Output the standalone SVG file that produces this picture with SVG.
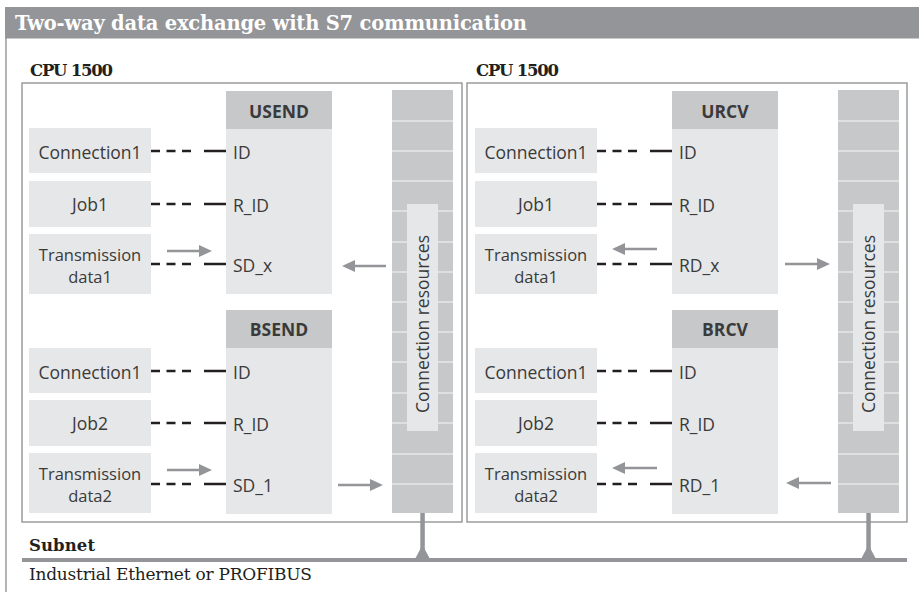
<svg xmlns="http://www.w3.org/2000/svg" width="919" height="592" viewBox="0 0 919 592">
<defs>
<marker id="ah" markerUnits="userSpaceOnUse" markerWidth="13" markerHeight="12" viewBox="0 0 13 12" refX="2" refY="6" orient="auto"><path d="M0,0 L13,6 L0,12 z" fill="#939598"/></marker>
<style>
.lbl{font-family:"Open Sans","Noto Sans","DejaVu Sans",sans-serif;font-size:17.5px;fill:#3a3a3a}
.two{font-size:16.5px}
.hdr{font-family:"Open Sans","Noto Sans",sans-serif;font-size:17.5px;font-weight:bold;fill:#3a3a3a;text-anchor:middle}
.mid{text-anchor:middle}
.box{fill:#e6e7e8}
.head{fill:#c7c8ca}
.col{fill:#c7c8ca}
.seg{stroke:#e6e7e8;stroke-width:1.5}
.cpu{fill:none;stroke:#939598;stroke-width:1.4}
.dash{stroke:#231f20;stroke-width:2.3;fill:none;stroke-dasharray:9 6.5 9 6.5 9 13 30}
.arr{stroke:#939598;stroke-width:2.6;fill:none;marker-end:url(#ah)}
.serifb{font-family:"DejaVu Serif","Liberation Serif",serif;font-weight:bold;fill:#231f20}
.serif{font-family:"DejaVu Serif","Liberation Serif",serif;fill:#231f20}
.net{fill:#939598}
</style>
</defs>
<rect x="0" y="0" width="919" height="592" fill="#ffffff"/>

<g id="title">
<rect x="5" y="7" width="914" height="31" fill="#939598"/>
<line x1="5" y1="38.5" x2="919" y2="38.5" stroke="#c8c9cb" stroke-width="1.2"/>
<line x1="6" y1="38" x2="6" y2="592" stroke="#939598" stroke-width="1.4"/>
<text x="15" y="29.5" class="serifb" style="fill:#ffffff" font-size="19.5" textLength="512" lengthAdjust="spacing">Two-way data exchange with S7 communication</text>
</g>

<!-- Left CPU -->
<g id="cpu-left">
<text x="30" y="76" class="serifb" font-size="16.5" textLength="83" lengthAdjust="spacing">CPU 1500</text>
<rect x="22" y="83" width="440" height="439" class="cpu"/>
</g>
<g id="usend">
<rect x="226" y="91" width="106" height="38" class="head"/>
<rect x="226" y="129" width="106" height="165" class="box"/>
<text x="279" y="118" class="hdr">USEND</text>
<text x="233" y="158.5" class="lbl">ID</text>
<text x="233" y="211.5" class="lbl">R_ID</text>
<text x="233" y="271.5" class="lbl">SD_x</text>
</g>
<g id="bsend">
<rect x="226" y="310" width="106" height="38" class="head"/>
<rect x="226" y="348" width="106" height="166" class="box"/>
<text x="279" y="336" class="hdr">BSEND</text>
<text x="233" y="378.5" class="lbl">ID</text>
<text x="233" y="430.5" class="lbl">R_ID</text>
<text x="233" y="491.5" class="lbl">SD_1</text>
</g>
<g id="l-conn1a"><rect x="29" y="128" width="122" height="45" class="box"/><text x="90" y="158.5" class="lbl mid">Connection1</text></g>
<g id="l-job1"><rect x="29" y="181" width="122" height="46" class="box"/><text x="90" y="211" class="lbl mid">Job1</text></g>
<g id="l-data1"><rect x="29" y="234" width="122" height="60" class="box"/><text x="90" y="260.5" class="lbl two mid">Transmission</text><text x="90" y="283" class="lbl two mid">data1</text></g>
<g id="l-conn1b"><rect x="29" y="348" width="122" height="45" class="box"/><text x="90" y="378.5" class="lbl mid">Connection1</text></g>
<g id="l-job2"><rect x="29" y="400" width="122" height="46" class="box"/><text x="90" y="430" class="lbl mid">Job2</text></g>
<g id="l-data2"><rect x="29" y="453" width="122" height="60" class="box"/><text x="90" y="479.5" class="lbl two mid">Transmission</text><text x="90" y="502" class="lbl two mid">data2</text></g>
<g id="l-res">
<rect x="392" y="90" width="61" height="423" class="col"/>
<path class="seg" d="M392,121H453M392,151H453M392,181H453M392,211H453M392,242H453M392,272H453M392,302H453M392,332H453M392,362H453M392,393H453M392,423H453M392,454H453M392,484H453"/>
<rect x="407" y="204" width="31" height="227" class="box"/>
<text transform="translate(428.5,324) rotate(-90)" class="lbl mid">Connection resources</text>
</g>

<!-- Right CPU -->
<g id="cpu-right">
<text x="476" y="76" class="serifb" font-size="16.5" textLength="83" lengthAdjust="spacing">CPU 1500</text>
<rect x="467" y="83" width="440" height="439" class="cpu"/>
</g>
<g id="urcv">
<rect x="672" y="91" width="106" height="38" class="head"/>
<rect x="672" y="129" width="106" height="165" class="box"/>
<text x="725" y="118" class="hdr">URCV</text>
<text x="679" y="158.5" class="lbl">ID</text>
<text x="679" y="211.5" class="lbl">R_ID</text>
<text x="679" y="271.5" class="lbl">RD_x</text>
</g>
<g id="brcv">
<rect x="672" y="310" width="106" height="38" class="head"/>
<rect x="672" y="348" width="106" height="166" class="box"/>
<text x="725" y="336" class="hdr">BRCV</text>
<text x="679" y="378.5" class="lbl">ID</text>
<text x="679" y="430.5" class="lbl">R_ID</text>
<text x="679" y="491.5" class="lbl">RD_1</text>
</g>
<g id="r-conn1a"><rect x="475" y="128" width="122" height="45" class="box"/><text x="536" y="158.5" class="lbl mid">Connection1</text></g>
<g id="r-job1"><rect x="475" y="181" width="122" height="46" class="box"/><text x="536" y="211" class="lbl mid">Job1</text></g>
<g id="r-data1"><rect x="475" y="234" width="122" height="60" class="box"/><text x="536" y="260.5" class="lbl two mid">Transmission</text><text x="536" y="283" class="lbl two mid">data1</text></g>
<g id="r-conn1b"><rect x="475" y="348" width="122" height="45" class="box"/><text x="536" y="378.5" class="lbl mid">Connection1</text></g>
<g id="r-job2"><rect x="475" y="400" width="122" height="46" class="box"/><text x="536" y="430" class="lbl mid">Job2</text></g>
<g id="r-data2"><rect x="475" y="453" width="122" height="60" class="box"/><text x="536" y="479.5" class="lbl two mid">Transmission</text><text x="536" y="502" class="lbl two mid">data2</text></g>
<g id="r-res">
<rect x="838" y="90" width="61" height="423" class="col"/>
<path class="seg" d="M838,121H899M838,151H899M838,181H899M838,211H899M838,242H899M838,272H899M838,302H899M838,332H899M838,362H899M838,393H899M838,423H899M838,454H899M838,484H899"/>
<rect x="853" y="204" width="31" height="227" class="box"/>
<text transform="translate(874.5,324) rotate(-90)" class="lbl mid">Connection resources</text>
</g>

<!-- Subnet -->
<g id="subnet">
<text x="29" y="551" class="serifb" font-size="16.5" textLength="66" lengthAdjust="spacing">Subnet</text>
<rect x="22" y="558" width="885" height="4" class="net"/>
<rect x="420.3" y="513" width="4.5" height="46" class="net"/>
<polygon points="415,559 430,559 422.5,545" class="net"/>
<rect x="866.3" y="513" width="4.5" height="46" class="net"/>
<polygon points="861,559 876,559 868.5,545" class="net"/>
<text x="29" y="580" class="serif" font-size="17" textLength="283" lengthAdjust="spacing">Industrial Ethernet or PROFIBUS</text>
</g>

<g id="connectors">
<path class="dash" d="M151,151H226"/>
<path class="dash" d="M151,204H226"/>
<path class="dash" d="M151,264H226"/>
<path class="dash" d="M151,371H226"/>
<path class="dash" d="M151,423H226"/>
<path class="dash" d="M151,484H226"/>
<path class="dash" d="M597,151H672"/>
<path class="dash" d="M597,204H672"/>
<path class="dash" d="M597,264H672"/>
<path class="dash" d="M597,371H672"/>
<path class="dash" d="M597,423H672"/>
<path class="dash" d="M597,484H672"/>
<path class="arr" d="M167,251H201"/>
<path class="arr" d="M167,470H201"/>
<path class="arr" d="M386,266H353"/>
<path class="arr" d="M338,485H372"/>
<path class="arr" d="M657,249H623"/>
<path class="arr" d="M657,468H623"/>
<path class="arr" d="M785,264H819"/>
<path class="arr" d="M831,483H797"/>
</g>
</svg>
